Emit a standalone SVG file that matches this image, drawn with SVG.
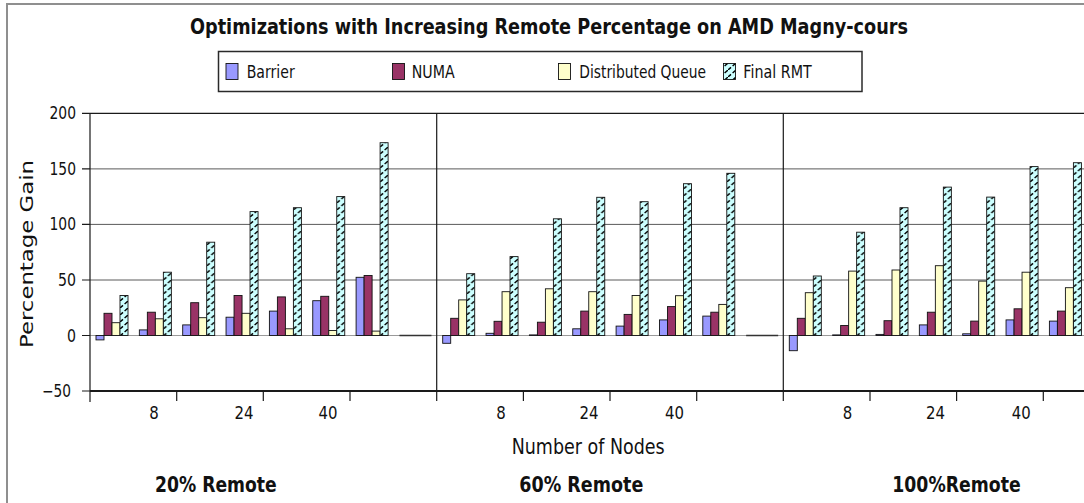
<svg xmlns="http://www.w3.org/2000/svg" width="1084" height="503" viewBox="0 0 1084 503">
  <style>
    .txt { font-family: "DejaVu Sans", "Liberation Sans", sans-serif; fill: #111; }
    .bold { font-weight: bold; }
    .grid { stroke: #5a5a5a; stroke-width: 1; }
    .zero { stroke: #9a9a9a; stroke-width: 1.2; }
    .axis { stroke: #1a1a1a; stroke-width: 1.2; fill: none; }
    .bar { stroke: #111; stroke-width: 0.9; }
    .b { fill: #9999ff; }
    .n { fill: #993366; }
    .d { fill: #ffffcc; }
    .r { fill: url(#hatch); }
  </style>
  <defs>
    <!-- dashed upward diagonal hatch on pale cyan -->
    <pattern id="hatch" patternUnits="userSpaceOnUse" width="8" height="7">
      <rect width="8" height="7" fill="#ccffff"/>
      <path d="M0,7 L3,4.4 M4.6,3 L8,0" stroke="#000" stroke-width="1.4" fill="none"/>
    </pattern>
  </defs>

  <rect width="1084" height="503" fill="#fff"/>
  <!-- outer frame -->
  <path d="M7,503 L7,4 L1084,4" stroke="#8f8f8f" stroke-width="2" fill="none"/>

  <!-- title -->
  <text class="txt bold" x="190" y="33.5" font-size="21.5" textLength="718" lengthAdjust="spacingAndGlyphs">Optimizations with Increasing Remote Percentage on AMD Magny-cours</text>

  <!-- legend -->
  <g id="legend">
    <rect x="218.5" y="51.5" width="643.5" height="40" fill="#fff" stroke="#2a2a2a" stroke-width="1.5"/>
    <rect class="bar b" x="226" y="63.5" width="12" height="16"/>
    <text class="txt" x="246.7" y="77.5" font-size="17.5" textLength="48" lengthAdjust="spacingAndGlyphs">Barrier</text>
    <rect class="bar n" x="392.5" y="63.5" width="12" height="16"/>
    <text class="txt" x="411.7" y="77.5" font-size="17.5" textLength="43" lengthAdjust="spacingAndGlyphs">NUMA</text>
    <rect class="bar d" x="558.5" y="63.5" width="12" height="16"/>
    <text class="txt" x="579.3" y="77.5" font-size="17.5" textLength="126.7" lengthAdjust="spacingAndGlyphs">Distributed Queue</text>
    <rect class="bar r" x="723.5" y="63.5" width="12" height="16"/>
    <text class="txt" x="743.3" y="77.5" font-size="17.5" textLength="68.4" lengthAdjust="spacingAndGlyphs">Final RMT</text>
  </g>

  <!-- grid and axes -->
  <g id="grid">
    <line class="grid" x1="90" y1="168.9" x2="1084" y2="168.9"/>
    <line class="grid" x1="90" y1="224.4" x2="1084" y2="224.4"/>
    <line class="grid" x1="90" y1="280" x2="1084" y2="280"/>
    <line class="zero" x1="90" y1="335.5" x2="1084" y2="335.5"/>
  </g>

  <g id="y-axis">
    <path class="axis" d="M90,113.3 L1084,113.3 M90,113.3 L90,402"/>
    <path class="axis" d="M82,113.3 L90,113.3 M82,168.9 L90,168.9 M82,224.4 L90,224.4 M82,280 L90,280 M82,335.5 L90,335.5 M82,391 L90,391"/>
    <g class="txt" font-size="17" text-anchor="end">
      <text x="76" y="119.3" textLength="26.5" lengthAdjust="spacingAndGlyphs">200</text>
      <text x="76" y="174.9" textLength="26.5" lengthAdjust="spacingAndGlyphs">150</text>
      <text x="76" y="230.4" textLength="26.5" lengthAdjust="spacingAndGlyphs">100</text>
      <text x="76" y="286" textLength="18" lengthAdjust="spacingAndGlyphs">50</text>
      <text x="76" y="341.5" textLength="9" lengthAdjust="spacingAndGlyphs">0</text>
      <text x="71" y="397" textLength="29" lengthAdjust="spacingAndGlyphs">−50</text>
    </g>
    <text class="txt" transform="translate(33,348) rotate(-90)" font-size="18" textLength="188" lengthAdjust="spacingAndGlyphs">Percentage Gain</text>
  </g>

  <g id="x-axis">
    <line x1="90" y1="391" x2="1084" y2="391" stroke="#1a1a1a" stroke-width="2.2"/>
    <path class="axis" d="M436.7,113.3 L436.7,401 M783.3,113.3 L783.3,401"/>
    <path class="axis" d="M176.7,391 L176.7,401 M263.3,391 L263.3,401 M350,391 L350,401 M523.4,391 L523.4,401 M610,391 L610,401 M696.7,391 L696.7,401 M870,391 L870,401 M956.6,391 L956.6,401 M1043.3,391 L1043.3,401"/>
    <g class="txt" font-size="17.5" text-anchor="middle">
      <text x="154" y="418.5" textLength="9.5" lengthAdjust="spacingAndGlyphs">8</text>
      <text x="244" y="418.5" textLength="19" lengthAdjust="spacingAndGlyphs">24</text>
      <text x="328" y="418.5" textLength="19" lengthAdjust="spacingAndGlyphs">40</text>
      <text x="501" y="418.5" textLength="9.5" lengthAdjust="spacingAndGlyphs">8</text>
      <text x="589" y="418.5" textLength="19" lengthAdjust="spacingAndGlyphs">24</text>
      <text x="674.5" y="418.5" textLength="19" lengthAdjust="spacingAndGlyphs">40</text>
      <text x="847.5" y="418.5" textLength="9.5" lengthAdjust="spacingAndGlyphs">8</text>
      <text x="935.5" y="418.5" textLength="19" lengthAdjust="spacingAndGlyphs">24</text>
      <text x="1021.3" y="418.5" textLength="19" lengthAdjust="spacingAndGlyphs">40</text>
    </g>
    <text class="txt" x="511.7" y="453.5" font-size="20.5" textLength="153" lengthAdjust="spacingAndGlyphs">Number of Nodes</text>
    <text class="txt bold" x="155" y="491.5" font-size="20.5" textLength="121.7" lengthAdjust="spacingAndGlyphs">20% Remote</text>
    <text class="txt bold" x="519.3" y="491.5" font-size="20.5" textLength="124" lengthAdjust="spacingAndGlyphs">60% Remote</text>
    <text class="txt bold" x="892.3" y="491.5" font-size="20.5" textLength="128.4" lengthAdjust="spacingAndGlyphs">100%Remote</text>
  </g>

  <!-- 20% remote -->
  <g id="remote-20">
    <g transform="translate(96,0)">
      <rect class="bar b" x="0" y="335.5" width="8" height="4.4"/>
      <rect class="bar n" x="8" y="313.3" width="8" height="22.2"/>
      <rect class="bar d" x="16" y="322.7" width="8" height="12.8"/>
      <rect class="bar r" x="24" y="295.5" width="8" height="40"/>
    </g>
    <g transform="translate(139.35,0)">
      <rect class="bar b" x="0" y="329.9" width="8" height="5.6"/>
      <rect class="bar n" x="8" y="312.2" width="8" height="23.3"/>
      <rect class="bar d" x="16" y="318.8" width="8" height="16.7"/>
      <rect class="bar r" x="24" y="272.2" width="8" height="63.3"/>
    </g>
    <g transform="translate(182.7,0)">
      <rect class="bar b" x="0" y="324.9" width="8" height="10.6"/>
      <rect class="bar n" x="8" y="302.7" width="8" height="32.8"/>
      <rect class="bar d" x="16" y="317.7" width="8" height="17.8"/>
      <rect class="bar r" x="24" y="242.2" width="8" height="93.3"/>
    </g>
    <g transform="translate(226.05,0)">
      <rect class="bar b" x="0" y="317.2" width="8" height="18.3"/>
      <rect class="bar n" x="8" y="295.5" width="8" height="40"/>
      <rect class="bar d" x="16" y="313.3" width="8" height="22.2"/>
      <rect class="bar r" x="24" y="211.6" width="8" height="123.9"/>
    </g>
    <g transform="translate(269.4,0)">
      <rect class="bar b" x="0" y="311.1" width="8" height="24.4"/>
      <rect class="bar n" x="8" y="296.9" width="8" height="38.6"/>
      <rect class="bar d" x="16" y="328.8" width="8" height="6.7"/>
      <rect class="bar r" x="24" y="207.7" width="8" height="127.8"/>
    </g>
    <g transform="translate(312.75,0)">
      <rect class="bar b" x="0" y="300.7" width="8" height="34.8"/>
      <rect class="bar n" x="8" y="296.3" width="8" height="39.2"/>
      <rect class="bar d" x="16" y="330.5" width="8" height="5"/>
      <rect class="bar r" x="24" y="196.6" width="8" height="138.9"/>
    </g>
    <g transform="translate(356.1,0)">
      <rect class="bar b" x="0" y="277.3" width="8" height="58.2"/>
      <rect class="bar n" x="8" y="275.5" width="8" height="60"/>
      <rect class="bar d" x="16" y="331.1" width="8" height="4.4"/>
      <rect class="bar r" x="24" y="142.7" width="8" height="192.8"/>
    </g>
    <line x1="399.45" y1="335.5" x2="431.45" y2="335.5" stroke="#333" stroke-width="1.4"/>
  </g>

  <!-- 60% remote -->
  <g id="remote-60">
    <g transform="translate(442.7,0)">
      <rect class="bar b" x="0" y="335.5" width="8" height="7.8"/>
      <rect class="bar n" x="8" y="318.3" width="8" height="17.2"/>
      <rect class="bar d" x="16" y="299.9" width="8" height="35.6"/>
      <rect class="bar r" x="24" y="273.7" width="8" height="61.8"/>
    </g>
    <g transform="translate(486.05,0)">
      <rect class="bar b" x="0" y="333.3" width="8" height="2.2"/>
      <rect class="bar n" x="8" y="321.3" width="8" height="14.2"/>
      <rect class="bar d" x="16" y="291.7" width="8" height="43.8"/>
      <rect class="bar r" x="24" y="256.6" width="8" height="78.9"/>
    </g>
    <g transform="translate(529.4,0)">
      <rect class="bar b" x="0" y="334.9" width="8" height="0.6"/>
      <rect class="bar n" x="8" y="322.2" width="8" height="13.3"/>
      <rect class="bar d" x="16" y="288.8" width="8" height="46.7"/>
      <rect class="bar r" x="24" y="218.8" width="8" height="116.7"/>
    </g>
    <g transform="translate(572.75,0)">
      <rect class="bar b" x="0" y="328.8" width="8" height="6.7"/>
      <rect class="bar n" x="8" y="311.1" width="8" height="24.4"/>
      <rect class="bar d" x="16" y="291.7" width="8" height="43.8"/>
      <rect class="bar r" x="24" y="197.3" width="8" height="138.2"/>
    </g>
    <g transform="translate(616.1,0)">
      <rect class="bar b" x="0" y="326.1" width="8" height="9.4"/>
      <rect class="bar n" x="8" y="314.4" width="8" height="21.1"/>
      <rect class="bar d" x="16" y="295.5" width="8" height="40"/>
      <rect class="bar r" x="24" y="201.7" width="8" height="133.8"/>
    </g>
    <g transform="translate(659.45,0)">
      <rect class="bar b" x="0" y="319.9" width="8" height="15.6"/>
      <rect class="bar n" x="8" y="306.6" width="8" height="28.9"/>
      <rect class="bar d" x="16" y="295.7" width="8" height="39.8"/>
      <rect class="bar r" x="24" y="183.7" width="8" height="151.8"/>
    </g>
    <g transform="translate(702.8,0)">
      <rect class="bar b" x="0" y="316.1" width="8" height="19.4"/>
      <rect class="bar n" x="8" y="312.2" width="8" height="23.3"/>
      <rect class="bar d" x="16" y="304.4" width="8" height="31.1"/>
      <rect class="bar r" x="24" y="173.3" width="8" height="162.2"/>
    </g>
    <line x1="746.15" y1="335.5" x2="778.15" y2="335.5" stroke="#333" stroke-width="1.4"/>
  </g>

  <!-- 100% remote -->
  <g id="remote-100">
    <g transform="translate(789.3,0)">
      <rect class="bar b" x="0" y="335.5" width="8" height="15.2"/>
      <rect class="bar n" x="8" y="318.3" width="8" height="17.2"/>
      <rect class="bar d" x="16" y="292.7" width="8" height="42.8"/>
      <rect class="bar r" x="24" y="276" width="8" height="59.5"/>
    </g>
    <g transform="translate(832.65,0)">
      <rect class="bar b" x="0" y="334.9" width="8" height="0.6"/>
      <rect class="bar n" x="8" y="325.5" width="8" height="10"/>
      <rect class="bar d" x="16" y="271.1" width="8" height="64.4"/>
      <rect class="bar r" x="24" y="232.2" width="8" height="103.3"/>
    </g>
    <g transform="translate(876,0)">
      <rect class="bar b" x="0" y="334.4" width="8" height="1.1"/>
      <rect class="bar n" x="8" y="320.7" width="8" height="14.8"/>
      <rect class="bar d" x="16" y="270" width="8" height="65.5"/>
      <rect class="bar r" x="24" y="207.7" width="8" height="127.8"/>
    </g>
    <g transform="translate(919.35,0)">
      <rect class="bar b" x="0" y="324.9" width="8" height="10.6"/>
      <rect class="bar n" x="8" y="312.2" width="8" height="23.3"/>
      <rect class="bar d" x="16" y="265.7" width="8" height="69.8"/>
      <rect class="bar r" x="24" y="187.1" width="8" height="148.4"/>
    </g>
    <g transform="translate(962.7,0)">
      <rect class="bar b" x="0" y="333.8" width="8" height="1.7"/>
      <rect class="bar n" x="8" y="321.1" width="8" height="14.4"/>
      <rect class="bar d" x="16" y="281.1" width="8" height="54.4"/>
      <rect class="bar r" x="24" y="197.1" width="8" height="138.4"/>
    </g>
    <g transform="translate(1006.05,0)">
      <rect class="bar b" x="0" y="319.9" width="8" height="15.6"/>
      <rect class="bar n" x="8" y="308.8" width="8" height="26.7"/>
      <rect class="bar d" x="16" y="272.2" width="8" height="63.3"/>
      <rect class="bar r" x="24" y="166.6" width="8" height="168.9"/>
    </g>
    <g transform="translate(1049.4,0)">
      <rect class="bar b" x="0" y="321.1" width="8" height="14.4"/>
      <rect class="bar n" x="8" y="311.1" width="8" height="24.4"/>
      <rect class="bar d" x="16" y="287.7" width="8" height="47.8"/>
      <rect class="bar r" x="24" y="162.7" width="8" height="172.8"/>
    </g>
  </g>
</svg>
